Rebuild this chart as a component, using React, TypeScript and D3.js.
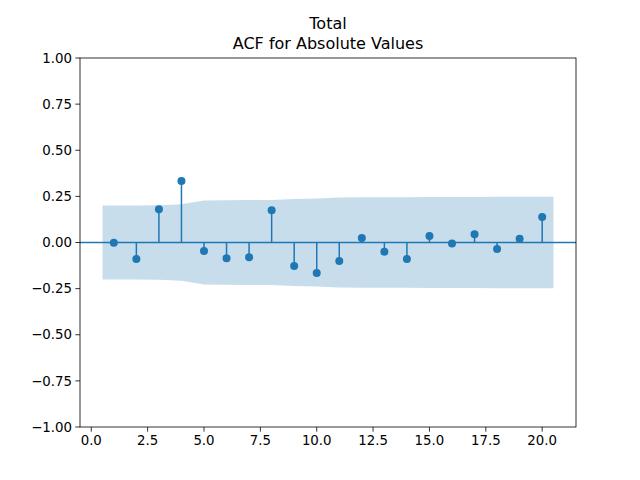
import React from "react";
import * as d3 from "d3";

const lags = [1, 2, 3, 4, 5, 6, 7, 8, 9, 10, 11, 12, 13, 14, 15, 16, 17, 18, 19, 20];
const acfValues = [
  -0.002, -0.089, 0.18, 0.333, -0.046, -0.085, -0.08, 0.175, -0.127, -0.165,
  -0.1, 0.024, -0.05, -0.09, 0.035, -0.005, 0.045, -0.035, 0.02, 0.138,
];
const confBand = [
  0.2, 0.2, 0.2016, 0.2079, 0.2282, 0.2286, 0.2299, 0.231, 0.2362, 0.2389,
  0.2434, 0.2451, 0.2452, 0.2456, 0.2469, 0.2471, 0.2471, 0.2474, 0.2476, 0.2477,
];
const xTicks = [0, 2.5, 5, 7.5, 10, 12.5, 15, 17.5, 20];
const yTicks = [-1, -0.75, -0.5, -0.25, 0, 0.25, 0.5, 0.75, 1];
const titleLines = ["Total", "ACF for Absolute Values"];

const W = 640;
const H = 480;
const left = 80;
const right = 576;
const top = 58;
const bottom = 427;
const C0 = "#1f77b4";
const font = "DejaVu Sans, sans-serif";

export default function App() {
  const x = d3.scaleLinear().domain([-0.5, 21.5]).range([left, right]);
  const y = d3.scaleLinear().domain([-1, 1]).range([bottom, top]);

  const bandX = lags.map((l, i) =>
    i === 0 ? l - 0.5 : i === lags.length - 1 ? l + 0.5 : l
  );
  const area = d3
    .area<number>()
    .x((_, i) => x(bandX[i]))
    .y0((d) => y(-d))
    .y1((d) => y(d));

  return (
    <svg
      width={W}
      height={H}
      style={{ position: "absolute", left: 0, top: 0, background: "#fff" }}
      fontFamily={font}
    >
      <rect x={0} y={0} width={W} height={H} fill="#fff" />
      <defs>
        <clipPath id="ax">
          <rect x={left} y={top} width={right - left} height={bottom - top} />
        </clipPath>
      </defs>
      <g clipPath="url(#ax)">
        <path d={area(confBand) || ""} fill={C0} fillOpacity={0.25} stroke="none" />
        <line x1={left} x2={right} y1={y(0)} y2={y(0)} stroke={C0} strokeWidth={1.5} />
        {lags.map((l, i) => (
          <line
            key={"s" + l}
            x1={x(l)}
            x2={x(l)}
            y1={y(0)}
            y2={y(acfValues[i])}
            stroke={C0}
            strokeWidth={1.5}
          />
        ))}
        {lags.map((l, i) => (
          <circle key={"c" + l} cx={x(l)} cy={y(acfValues[i])} r={4} fill={C0} />
        ))}
      </g>
      <rect
        x={left}
        y={top}
        width={right - left}
        height={bottom - top}
        fill="none"
        stroke="#000"
        strokeWidth={0.8}
      />
      {xTicks.map((t) => (
        <g key={"x" + t}>
          <line x1={x(t)} x2={x(t)} y1={bottom} y2={bottom + 4.7} stroke="#000" strokeWidth={0.8} />
          <text x={x(t)} y={bottom + 18} textAnchor="middle" fontSize={13.33} fill="#000">
            {t.toFixed(1)}
          </text>
        </g>
      ))}
      {yTicks.map((t) => (
        <g key={"y" + t}>
          <line x1={left - 4.7} x2={left} y1={y(t)} y2={y(t)} stroke="#000" strokeWidth={0.8} />
          <text
            x={left - 8}
            y={y(t)}
            dy="0.35em"
            textAnchor="end"
            fontSize={13.33}
            fill="#000"
          >
            {t < 0 ? "\u2212" + Math.abs(t).toFixed(2) : t.toFixed(2)}
          </text>
        </g>
      ))}
      {titleLines.map((s, i) => (
        <text
          key={s}
          x={(left + right) / 2}
          y={28.5 + i * 20}
          textAnchor="middle"
          fontSize={16}
          fill="#000"
        >
          {s}
        </text>
      ))}
    </svg>
  );
}
